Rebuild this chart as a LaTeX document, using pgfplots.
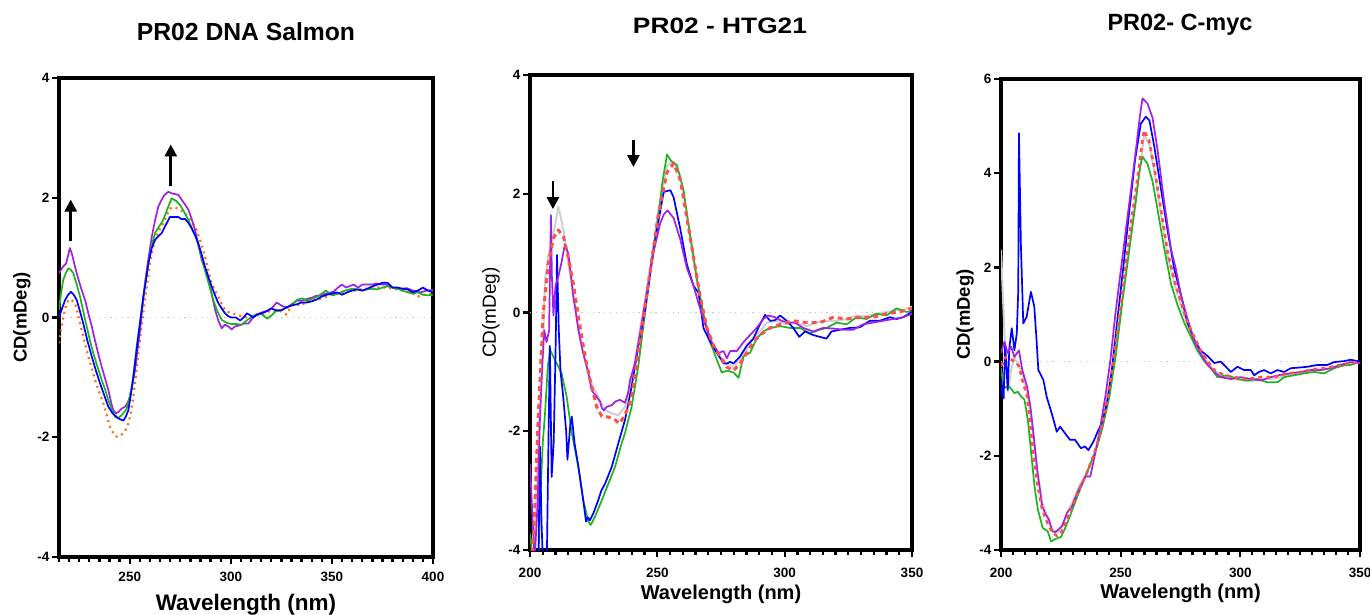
\documentclass[border=0pt]{standalone}
\usepackage{fontspec}
\setmainfont{Liberation Sans}
\usepackage{pgfplots}
\pgfplotsset{compat=1.18}
\usetikzlibrary{arrows.meta}
\definecolor{cpur}{RGB}{160,32,230}
\definecolor{cgrn}{RGB}{30,180,30}
\definecolor{cblu}{RGB}{0,0,255}
\definecolor{corg}{RGB}{255,110,20}
\definecolor{cred}{RGB}{255,80,80}
\definecolor{cgry}{RGB}{208,208,208}
\pgfplotsset{cdax/.style={
  scale only axis, clip=true,
  axis line style={line width=3.2pt},
  tick align=outside, tick pos=left,
  major tick length=7pt, minor tick length=4.5pt,
  tick style={black, line width=2.3pt},
  /pgf/number format/assume math mode=true,
  ticklabel style={font=\fontsize{13.5}{13.5}\selectfont\bfseries},
  xticklabel style={yshift=-5pt},
  yticklabel style={xshift=1pt},
  xlabel style={font=\fontsize{20}{20}\selectfont\bfseries, anchor=center},
  ylabel style={font=\fontsize{18.5}{18.5}\selectfont\bfseries, anchor=center, rotate=0},
  every axis plot/.append style={line width=1.7pt, line join=round},
}}
\begin{document}
\begin{tikzpicture}
\path[use as bounding box] (0pt,0pt) rectangle (1370pt,614pt);
\node[font=\fontsize{24.7}{24.7}\selectfont\bfseries] at (246pt,582pt) {PR02 DNA Salmon};
\node[font=\fontsize{22.3}{22.3}\selectfont\bfseries, xscale=1.18] at (720pt,588pt) {PR02 - HTG21};
\node[font=\fontsize{23.5}{23.5}\selectfont\bfseries] at (1180pt,589pt) {PR02- C-myc};
% ---------------- Panel 1 ----------------
\begin{axis}[cdax, at={(59pt,57pt)}, anchor=south west, width=374pt, height=479pt,
  xmin=215, xmax=400, ymin=-4, ymax=4,
  xtick={250,300,350,400}, minor xtick={215,220,...,400},
  ytick={-4,-2,0,2,4},
  xlabel={Wavelength (nm)}, ylabel={CD(mDeg)},
  xlabel style={at={(axis description cs:0.5,-0.100)}, font=\fontsize{22.5}{22.5}\selectfont\bfseries},
  ylabel style={at={(axis description cs:-0.099,0.5)}}]
\addplot[forget plot, gray!45, line width=1pt, dash pattern=on 1.2pt off 4.5pt] coordinates {(215,0) (400,0)};
\addplot[corg, line width=2.2pt, dash pattern=on 2pt off 4pt] coordinates {
(215,-0.43) (216,-0.2) (217.1,0.0) (218.3,0.18) (219.6,0.29) (221,0.3) (222.9,0.24) (224.5,0.03) (226.2,-0.21) (227.8,-0.43) (229.5,-0.65) (231.2,-0.85) (232.8,-1.04) (234.8,-1.24) (236.9,-1.43) (238.5,-1.62) (240.2,-1.82) (241.8,-1.93) (243.5,-1.99) (245.2,-1.98) (246.8,-1.93) (248,-1.87) (249.3,-1.77) (250.5,-1.6) (251.8,-1.32) (253,-0.98) (254.2,-0.60) (255.5,-0.25) (256.7,0.07) (258.3,0.48) (260,0.9) (261.6,1.18) (263.3,1.38) (265,1.48) (266.6,1.57) (268.2,1.7) (269.9,1.82) (272,1.84) (274,1.82) (276.5,1.76) (279,1.68) (281,1.58) (283.1,1.46) (285.2,1.25) (287.2,1.02) (288.9,0.78) (290.5,0.57) (292.2,0.45) (293.8,0.35) (295.5,0.23) (297.1,0.13) (298.8,0.09) (300.4,0.07) (302.9,0.05) (305.4,0.02) (308,0.0) (310,0.02) (312.5,0.03) (315,0.05) (317.5,0.08) (320,0.12) (322.5,0.1) (325,0.1) (327.5,0.05) (330,0.2) (332.5,0.22) (335,0.2) (337.5,0.28) (340,0.3) (342.5,0.3) (345,0.32) (347.5,0.35) (350,0.38) (352.5,0.4) (355,0.4) (357.5,0.43) (360,0.45) (362.5,0.45) (365,0.48) (367.5,0.48) (370,0.5) (372.5,0.5) (375,0.5) (377.5,0.5) (380,0.48) (382.5,0.47) (385,0.45) (387.5,0.43) (390,0.4) (392.5,0.35) (395,0.38) (397.5,0.38) (400,0.4)};
\addplot[cpur] coordinates {
(215,0.74) (217,0.85) (218.5,0.9) (220.4,1.16) (221.5,1.05) (222.9,0.85) (224.5,0.65) (226.2,0.46) (228,0.28) (229.5,0.07) (231,-0.12) (232.8,-0.38) (234.5,-0.62) (236.1,-0.82) (237.8,-1.02) (239.4,-1.21) (241,-1.45) (241.9,-1.55) (243.2,-1.6) (244.3,-1.58) (246,-1.52) (247.7,-1.49) (249,-1.42) (250.1,-1.32) (251.3,-1.12) (252.6,-0.88) (253.8,-0.55) (255.1,-0.21) (256.3,0.18) (257.5,0.57) (259.2,0.98) (260.9,1.35) (262.5,1.62) (264.1,1.85) (265.5,1.95) (267,2.04) (269.1,2.10) (271,2.07) (272.5,2.06) (274,2.05) (276,1.95) (277.5,1.88) (279,1.80) (280.6,1.65) (282.3,1.46) (284,1.2) (285.6,0.96) (287.3,0.8) (288.9,0.63) (290.5,0.4) (292.2,0.13) (293.8,-0.05) (295.5,-0.18) (297,-0.12) (298.8,-0.15) (300.4,-0.2) (302,-0.15) (304.5,-0.13) (306.5,-0.1) (308.7,-0.1) (310.5,-0.02) (312.8,0.05) (315,0.08) (317.7,0.11) (320,0.15) (322.7,0.25) (325,0.2) (327.7,0.16) (330,0.22) (332.6,0.28) (335,0.28) (337.6,0.31) (340,0.33) (342,0.36) (344.2,0.37) (347,0.4) (350.8,0.43) (353,0.5) (355,0.55) (357,0.5) (360.7,0.55) (363,0.5) (365,0.55) (367.3,0.55) (370,0.55) (372,0.57) (374,0.55) (377,0.55) (380.5,0.49) (384,0.48) (387.1,0.49) (390,0.45) (393.7,0.42) (397,0.45) (400,0.46)};
\addplot[cgrn] coordinates {
(215,0.13) (216,0.4) (217.1,0.63) (218.5,0.75) (219.6,0.82) (220.8,0.8) (222.1,0.74) (223.8,0.55) (225.4,0.35) (227,0.1) (228.7,-0.15) (230.3,-0.38) (232,-0.6) (234,-0.82) (236.1,-1.04) (237.8,-1.2) (239.4,-1.38) (241,-1.52) (242.7,-1.66) (244.3,-1.68) (246,-1.63) (247.3,-1.58) (248.5,-1.52) (249.8,-1.35) (251,-1.16) (252.2,-0.85) (253.4,-0.49) (254.7,-0.18) (255.9,0.13) (257.5,0.52) (259.2,0.9) (260.8,1.2) (262.5,1.41) (264.5,1.52) (266.6,1.63) (268.7,1.82) (270.7,1.99) (272.8,1.95) (274.9,1.88) (277,1.76) (279,1.63) (281,1.47) (283.1,1.30) (285.2,1.05) (287.2,0.79) (289.3,0.54) (291.3,0.29) (293.4,0.1) (295.5,-0.04) (298,-0.09) (300.4,-0.11) (303,-0.11) (305.4,-0.12) (307.8,-0.05) (310.3,0.01) (312.5,0.05) (315,0.06) (318,-0.02) (320,0.03) (322,0.1) (325,0.12) (328,0.18) (330.5,0.22) (333,0.3) (335.5,0.32) (338,0.27) (340.5,0.32) (343,0.35) (345,0.4) (347,0.45) (349,0.4) (350.5,0.37) (353,0.4) (355,0.43) (357.5,0.46) (360,0.48) (362.5,0.47) (365,0.45) (367.5,0.47) (370,0.48) (372.5,0.47) (375,0.5) (377.5,0.52) (380,0.5) (382.5,0.48) (385,0.45) (387.5,0.42) (390,0.4) (392.5,0.42) (395,0.38) (397.5,0.37) (400,0.38)};
\addplot[cblu] coordinates {
(215,0.0) (216.5,0.15) (218,0.29) (219.5,0.38) (220.9,0.43) (222.3,0.38) (223.8,0.29) (225.4,0.1) (227,-0.1) (229,-0.38) (231.2,-0.65) (233.2,-0.88) (235.3,-1.10) (237.4,-1.3) (239.4,-1.49) (241.5,-1.6) (243.5,-1.66) (245.2,-1.7) (246.8,-1.72) (248,-1.66) (249.3,-1.55) (250.5,-1.3) (251.8,-0.99) (253,-0.66) (254.2,-0.32) (255.5,0.02) (256.7,0.35) (258,0.62) (259.2,0.9) (260.8,1.15) (262.5,1.30) (264.2,1.36) (265.8,1.41) (267.9,1.55) (269.9,1.68) (272,1.68) (274,1.68) (275.7,1.64) (277.3,1.65) (279,1.58) (280.6,1.49) (282.3,1.38) (283.9,1.24) (285.6,1.05) (287.2,0.85) (288.9,0.68) (290.5,0.52) (292.2,0.37) (293.8,0.24) (295.5,0.15) (297.1,0.07) (298.8,0.02) (300.4,0.0) (302.5,0.0) (304.6,-0.05) (306.3,0.0) (307.9,0.07) (309.5,0.04) (311,0.0) (313,0.05) (315,0.07) (317.5,0.1) (320,0.15) (322.5,0.12) (325,0.12) (327.5,0.17) (330,0.2) (332.5,0.22) (335,0.25) (337.5,0.25) (340,0.27) (342.5,0.3) (345,0.35) (347.5,0.38) (350,0.4) (352.5,0.42) (355,0.38) (357.5,0.42) (360,0.45) (362.5,0.47) (365,0.45) (367.5,0.48) (370,0.52) (372.5,0.55) (375,0.58) (377.5,0.58) (380,0.5) (382.5,0.5) (385,0.48) (387.5,0.47) (390,0.42) (392.5,0.45) (395,0.5) (397.5,0.45) (400,0.42)};
\draw[line width=2.6pt, -{Triangle[length=12pt,width=12pt]}] (axis cs:220.8,1.27) -- (axis cs:220.8,1.97);
\draw[line width=2.6pt, -{Triangle[length=12pt,width=12pt]}] (axis cs:270.3,2.19) -- (axis cs:270.3,2.89);
\end{axis}
% ---------------- Panel 2 ----------------
\begin{axis}[cdax, at={(530pt,64pt)}, anchor=south west, width=382pt, height=475pt,
  xmin=200, xmax=350, ymin=-4, ymax=4,
  xtick={200,250,300,350}, minor xtick={200,205,...,350},
  ytick={-4,-2,0,2,4},
  xticklabel style={yshift=-2.5pt},
  xlabel={Wavelength (nm)}, ylabel={CD(mDeg)},
  xlabel style={at={(axis description cs:0.5,-0.093)}},
  ylabel style={at={(axis description cs:-0.102,0.5)}, font=\fontsize{19}{19}\selectfont\mdseries}]
\addplot[forget plot, gray!45, line width=1pt, dash pattern=on 1.2pt off 4.5pt] coordinates {(200,0) (350,0)};
\addplot[cgry, line width=2pt] coordinates {
(200,-4.5) (201.5,-4.2) (202.5,-3.0) (203.5,-1.9) (204.6,-1.14) (205.9,0.55) (207.2,0.95) (208.5,1.22) (209.8,1.45) (211.1,1.78) (212.1,1.6) (213.1,1.39) (214,1.15) (215,0.83) (216.4,0.45) (217.7,0.10) (219.6,-0.46) (221.6,-0.80) (224.2,-1.19) (226.8,-1.42) (229.5,-1.64) (232.1,-1.70) (234.7,-1.73) (237.3,-1.59) (239.9,-1.14) (242.5,-0.46) (245.2,0.21) (247.8,0.94) (250.4,1.72) (253.8,2.48) (256.4,2.54) (259,2.30) (261.6,1.65) (264.2,0.93) (266.8,0.21) (269.5,-0.32) (272.1,-0.62) (274.7,-0.74) (277.3,-0.86) (279.9,-0.92) (282.5,-0.80) (285.1,-0.62) (287.7,-0.44) (290.3,-0.32) (293,-0.17) (296.9,-0.14) (300.8,-0.2) (304.7,-0.17) (308.6,-0.23) (312.5,-0.17) (316.4,-0.14) (320.4,-0.14) (324.3,-0.11) (328.2,-0.05) (332.1,-0.07) (336,-0.02) (340,0.01) (343.9,0.04) (347,0.05) (350,0.1)};
\addplot[cgrn] coordinates {
(200,-3.72) (201.5,-4.3) (203,-4.5) (204.2,-3.0) (205,-2.2) (205.9,-1.70) (207,-0.9) (207.9,-0.63) (209.8,-0.80) (212.4,-1.02) (214.4,-1.42) (216.4,-2.03) (219,-2.6) (220.9,-3.16) (222.9,-3.52) (223.8,-3.58) (225.5,-3.44) (228.2,-3.16) (230.8,-2.88) (233.4,-2.6) (236,-2.2) (237.3,-2.03) (239.9,-1.59) (242.5,-0.91) (245.2,0.0) (247.8,0.88) (250.4,1.62) (252,2.2) (253.8,2.66) (255.5,2.55) (257.7,2.48) (260.3,2.06) (262.9,1.29) (265.5,0.57) (268.1,-0.02) (270.8,-0.5) (273.4,-0.8) (275.3,-1.01) (277.3,-0.98) (279.9,-1.01) (281.9,-1.10) (283.8,-0.74) (286.4,-0.68) (289,-0.44) (291.6,-0.32) (294.3,-0.26) (298.2,-0.23) (302.1,-0.26) (306,-0.26) (309.9,-0.35) (313.8,-0.29) (316.4,-0.26) (320.4,-0.17) (324.3,-0.2) (328.2,-0.08) (332.1,-0.11) (336,-0.02) (340,-0.05) (343.9,0.07) (347.8,0.01) (350,0.02)};
\addplot[cblu] coordinates {
(200,-4.5) (202,-4.5) (203.3,-4.2) (203.9,-2.26) (204.5,-3.5) (205.3,-4.5) (206.5,-4.5) (207.3,-2.0) (207.8,-0.56) (208.5,-2.77) (209.3,-2.2) (210.1,-0.5) (210.6,0.97) (211.3,-0.3) (212,-1.0) (213,-1.4) (214.2,-2.0) (214.7,-2.48) (215.8,-1.9) (216.4,-1.75) (217.5,-2.2) (219,-2.6) (220.9,-3.16) (222,-3.52) (222.7,-3.45) (223.5,-3.5) (224.9,-3.38) (226.8,-3.16) (228,-3.0) (229.5,-2.88) (232.1,-2.6) (234.7,-2.20) (237.3,-1.81) (239.9,-1.25) (242.5,-0.58) (245.2,0.05) (247.8,0.83) (250.4,1.53) (252.5,2.03) (255.1,2.06) (256.4,1.94) (259,1.41) (261.6,0.81) (264.2,0.45) (266.2,0.33) (268.1,-0.26) (270.8,-0.5) (273.4,-0.68) (276,-0.86) (277.3,-0.86) (278.6,-0.83) (279.9,-0.86) (282.5,-0.74) (285.1,-0.56) (287.7,-0.44) (290.3,-0.2) (292.3,-0.04) (294.3,-0.14) (296.2,-0.13) (298.2,-0.05) (300.8,-0.14) (303.4,-0.26) (305.7,-0.41) (308,-0.32) (311.2,-0.38) (313.8,-0.41) (316.4,-0.44) (318.4,-0.32) (321.7,-0.29) (325.6,-0.26) (329.5,-0.25) (333.4,-0.14) (337.3,-0.14) (341.3,-0.08) (343.9,-0.11) (346.5,-0.08) (350,0.01)};
\addplot[cpur] coordinates {
(200,-2.55) (201.8,-4.2) (203,-3.2) (203.9,-1.8) (204.8,-0.9) (205.6,-0.3) (206.5,-0.5) (207.5,-0.3) (208.2,1.64) (208.6,0.6) (209.2,-0.05) (210,0.45) (211.1,0.6) (212.4,0.85) (213.7,1.15) (215,1.0) (216,0.65) (217,0.27) (218,0.0) (219,-0.29) (220.9,-0.69) (222.9,-1.02) (224.2,-1.31) (226.2,-1.42) (227.5,-1.5) (228.2,-1.61) (229,-1.65) (230.1,-1.59) (232.1,-1.56) (233.5,-1.5) (235.3,-1.47) (237.3,-1.52) (238.5,-1.35) (239.3,-1.14) (241.2,-0.86) (243.2,-0.35) (245.8,0.32) (248.4,1.0) (251.1,1.50) (252.5,1.65) (254,1.72) (256.4,1.59) (259,1.23) (261.6,0.75) (264.2,0.45) (266.2,0.15) (268.8,-0.2) (271.4,-0.5) (274,-0.68) (276,-0.65) (277.3,-0.77) (278.6,-0.65) (281.2,-0.65) (283.8,-0.5) (286.4,-0.38) (289,-0.26) (291.6,-0.11) (293.6,-0.05) (296.2,-0.08) (298.8,-0.14) (301.4,-0.17) (304,-0.17) (307.3,-0.26) (311.2,-0.32) (315.1,-0.26) (319.1,-0.27) (323,-0.29) (326.9,-0.29) (330.8,-0.2) (334.7,-0.17) (338.6,-0.14) (342.6,-0.11) (346.5,-0.08) (350,-0.02)};
\addplot[cred, line width=3pt, dash pattern=on 5pt off 4pt] coordinates {
(200,-4.5) (201.6,-3.6) (203.3,-1.70) (205.2,-0.01) (207.2,0.83) (209.2,1.25) (211.1,1.39) (213.1,1.28) (215,0.94) (217,0.49) (219,-0.07) (221.6,-0.74) (224.2,-1.25) (226.2,-1.59) (228.2,-1.75) (230.8,-1.76) (233.4,-1.81) (235.1,-1.87) (236.5,-1.78) (238.6,-1.6) (239.9,-1.42) (242.5,-0.69) (245.2,0.10) (247.8,0.88) (250.4,1.65) (253.8,2.36) (256.4,2.51) (259,2.24) (261.6,1.59) (264.2,0.93) (266.8,0.27) (269.5,-0.26) (272.1,-0.56) (274.7,-0.74) (277.3,-0.92) (279.9,-0.98) (282.5,-0.86) (285.1,-0.68) (287.7,-0.5) (290.3,-0.38) (294.3,-0.26) (298.2,-0.2) (303.4,-0.14) (308.6,-0.17) (313.8,-0.17) (319.1,-0.08) (324.3,-0.11) (329.5,-0.08) (334.7,-0.08) (340,-0.02) (345.2,0.01) (350,0.07)};
\draw[line width=2.6pt, -{Triangle[length=12pt,width=12pt]}] (axis cs:209,2.21) -- (axis cs:209,1.74);
\draw[line width=2.6pt, -{Triangle[length=12pt,width=12pt]}] (axis cs:240.6,2.91) -- (axis cs:240.6,2.45);
\end{axis}
% ---------------- Panel 3 ----------------
\begin{axis}[cdax, at={(1001pt,64pt)}, anchor=south west, width=359pt, height=471pt,
  xmin=200, xmax=350, ymin=-4, ymax=6,
  xtick={200,250,300,350}, minor xtick={200,205,...,350},
  ytick={-4,-2,0,2,4,6},
  xticklabel style={yshift=-2.5pt},
  xlabel={Wavelength (nm)}, ylabel={CD(mDeg)},
  xlabel style={at={(axis description cs:0.5,-0.093)}},
  ylabel style={at={(axis description cs:-0.100,0.5)}}]
\addplot[forget plot, gray!45, line width=1pt, dash pattern=on 1.2pt off 4.5pt] coordinates {(200,0) (350,0)};
\addplot[cgry, line width=2pt] coordinates {
(200,2.37) (201.2,0.9) (201.9,0.03) (203,-0.64) (204,-0.25) (205.5,0.1) (207,-0.05) (208.9,-0.25) (210.9,-0.67) (213,-1.38) (215.1,-2.29) (217.2,-3.0) (219.3,-3.28) (221.4,-3.56) (223.4,-3.63) (225.5,-3.53) (227.6,-3.21) (230.4,-2.93) (233.2,-2.58) (236,-2.37) (238.7,-2.01) (241.5,-1.56) (244.3,-0.96) (247.1,-0.04) (249.9,1.02) (252.6,2.16) (255.4,3.22) (258.2,4.14) (259.8,4.82) (262,4.6) (264,4.05) (266.8,3.15) (269.6,2.25) (272.4,1.65) (275.1,1.2) (277.9,0.78) (280.7,0.48) (283.5,0.2) (286.3,0.0) (289.1,-0.2) (293.2,-0.3) (297.4,-0.36) (303,-0.42) (308.5,-0.38) (314.1,-0.36) (319.7,-0.3) (325.2,-0.25) (330.8,-0.2) (336.4,-0.15) (341.9,-0.08) (346.1,-0.05) (350,-0.02)};
\addplot[cgrn] coordinates {
(200,-0.14) (201,-0.5) (202,-0.55) (203.5,-0.53) (205.6,-0.67) (207,-0.64) (208.4,-0.74) (209.8,-0.81) (211.2,-1.24) (212.6,-1.94) (214,-2.65) (215.4,-3.14) (217.4,-3.53) (219.5,-3.6) (220.9,-3.82) (223,-3.76) (225.1,-3.72) (227.2,-3.49) (229.3,-3.21) (231.4,-2.93) (234.1,-2.58) (236.9,-2.22) (239.7,-1.87) (242.5,-1.38) (245.3,-0.74) (248.1,0.18) (250.8,1.31) (253.6,2.37) (256.4,3.43) (258,4.1) (259.1,4.35) (261.2,4.2) (263.3,3.83) (265.4,3.23) (268.2,2.4) (271,1.66) (273.7,1.21) (276.5,0.83) (279.3,0.53) (282.1,0.23) (284.9,0.01) (287.7,-0.14) (290.4,-0.33) (294.6,-0.29) (298.8,-0.37) (303,-0.4) (307.1,-0.37) (311.3,-0.44) (315.5,-0.44) (318.3,-0.33) (322.5,-0.29) (326.6,-0.25) (330.8,-0.22) (335,-0.25) (339.2,-0.14) (343.3,-0.08) (346.1,-0.07) (350,0.0)};
\addplot[cblu] coordinates {
(200,-0.37) (200.6,-0.74) (201.1,-0.78) (201.7,0.39) (202.8,-0.6) (203.5,0.3) (204.5,0.71) (205.6,0.24) (206.6,0.6) (207.2,1.5) (207.5,4.85) (208.3,2.5) (209.3,0.81) (210.7,0.95) (212.5,1.48) (213.9,1.17) (214.8,0.5) (215.6,-0.18) (217.7,-0.39) (219.1,-0.75) (221.2,-1.10) (223.3,-1.49) (224.7,-1.38) (226.7,-1.52) (228.8,-1.66) (230.9,-1.66) (233.4,-1.84) (235.1,-1.80) (236.5,-1.88) (238.6,-1.70) (240.7,-1.45) (242.1,-1.31) (244.2,-0.89) (246.3,-0.18) (248.3,0.74) (251.1,2.01) (253.2,3.01) (256,4.28) (258.4,5.05) (260.5,5.2) (262,5.12) (264,4.58) (266.8,3.68) (269.6,2.78) (272.4,1.96) (275.1,1.43) (277.9,0.83) (280.7,0.46) (283.5,0.23) (286.3,0.12) (289.1,-0.03) (291.8,0.0) (293.2,-0.07) (296,-0.22) (298.8,-0.11) (301.6,-0.18) (304.4,-0.18) (305.8,-0.29) (307.8,-0.22) (309.9,-0.18) (312.7,-0.25) (315.5,-0.18) (318.3,-0.22) (321.1,-0.14) (323.8,-0.13) (328,-0.11) (332.2,-0.07) (336.4,-0.07) (339.2,-0.01) (343.3,0.01) (346.1,0.04) (350,0.0)};
\addplot[cpur] coordinates {
(200,0.18) (201.4,0.42) (202.8,0.18) (204.2,0.32) (205.6,0.1) (207.5,0.24) (208.9,-0.18) (210.9,-0.53) (212.3,-0.96) (213.7,-1.59) (215.1,-2.29) (217.2,-3.07) (218.6,-3.24) (220,-3.35) (221.4,-3.6) (222.7,-3.62) (224.1,-3.56) (225.5,-3.49) (227.6,-3.21) (229.7,-3.07) (231.8,-2.79) (233.9,-2.58) (235.3,-2.44) (237.3,-2.44) (239.4,-1.94) (241.5,-1.38) (243.6,-0.74) (245.7,0.03) (247.8,1.02) (250.6,2.16) (253.4,3.29) (256.2,4.43) (258,5.2) (259.1,5.59) (261.2,5.48) (263.3,5.18) (265.4,4.5) (268.2,3.38) (271,2.4) (273.1,1.96) (275.1,1.43) (277.9,0.91) (280.7,0.46) (283.5,0.16) (286.3,-0.07) (289.1,-0.22) (291.8,-0.33) (296,-0.37) (300.2,-0.33) (304.4,-0.37) (308.5,-0.4) (312.7,-0.33) (316.9,-0.28) (321.1,-0.25) (325.2,-0.22) (329.4,-0.18) (333.6,-0.18) (337.8,-0.14) (341.9,-0.07) (346.1,-0.01) (350,-0.03)};
\addplot[cred, line width=2.6pt, dash pattern=on 4pt off 4pt] coordinates {
(200,-0.1) (202,0.1) (204,0.05) (206,0.0) (207.5,-0.1) (208.9,-0.39) (210.9,-0.74) (212.3,-1.38) (213.7,-2.01) (215.1,-2.58) (217.2,-3.14) (219.3,-3.42) (221.4,-3.63) (223.4,-3.7) (225.5,-3.6) (227.6,-3.35) (229.7,-3.07) (232.5,-2.72) (235.3,-2.44) (238,-2.08) (240.8,-1.66) (243.6,-1.03) (246.4,-0.18) (249.2,0.88) (252,2.01) (254.7,3.08) (257.5,4.07) (258.8,4.6) (259.8,4.91) (261.9,4.69) (264,4.13) (266.8,3.23) (269.6,2.33) (272.4,1.73) (275.1,1.28) (277.9,0.83) (280.7,0.53) (283.5,0.23) (286.3,0.01) (289.1,-0.18) (293.2,-0.29) (297.4,-0.33) (303,-0.37) (308.5,-0.33) (314.1,-0.33) (319.7,-0.25) (325.2,-0.22) (330.8,-0.16) (336.4,-0.13) (341.9,-0.07) (346.1,-0.03) (350,-0.01)};
\end{axis}
\end{tikzpicture}
\end{document}
